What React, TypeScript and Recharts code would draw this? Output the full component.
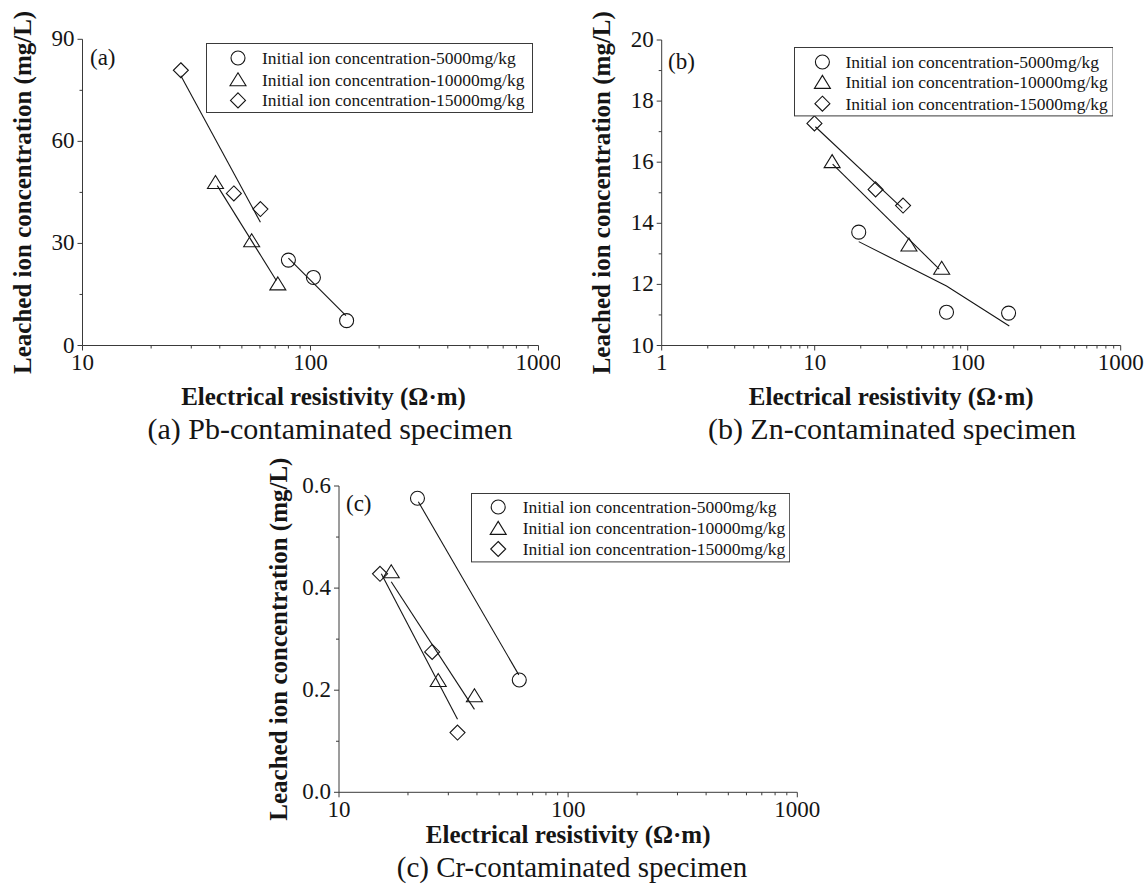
import React from "react";
import { ScatterChart, Scatter, XAxis, YAxis, Legend } from "recharts";

const SERIF = '"Liberation Serif", "Times New Roman", Times, serif';
const AXIS = "#3a3a3a";
const INK = "#151515";

const SERIES_NAMES = [
  "Initial ion concentration-5000mg/kg",
  "Initial ion concentration-10000mg/kg",
  "Initial ion concentration-15000mg/kg",
];
const X_TITLE = "Electrical resistivity (Ω·m)";
const Y_TITLE = "Leached ion concentration (mg/L)";
const CAPTIONS = [
  "(a) Pb-contaminated specimen",
  "(b) Zn-contaminated specimen",
  "(c) Cr-contaminated specimen",
];
const PANEL_TAGS = ["(a)", "(b)", "(c)"];

// (a) Pb
const pbRes5000 = [80, 103, 144];
const pbConc5000 = [25.1, 20.0, 7.3];
const pbRes10000 = [38.3, 55.2, 71.9];
const pbConc10000 = [47.9, 30.8, 18.1];
const pbRes15000 = [27.0, 46.1, 60.3];
const pbConc15000 = [80.9, 44.7, 40.1];
const pbFitRes5000 = [80, 143];
const pbFitConc5000 = [25.7, 8.8];
const pbFitRes10000 = [39, 70.8];
const pbFitConc10000 = [47.0, 19.1];
const pbFitRes15000 = [27, 60.3];
const pbFitConc15000 = [79.3, 36.2];

// (b) Zn
const znRes5000 = [19.4, 72.7, 185];
const znConc5000 = [13.71, 11.09, 11.06];
const znRes10000 = [13.0, 41.3, 67.6];
const znConc10000 = [16.02, 13.29, 12.53];
const znRes15000 = [9.96, 25.0, 37.8];
const znConc15000 = [17.27, 15.11, 14.58];
const znFitRes5000 = [19.4, 72.7, 187];
const znFitConc5000 = [13.4, 11.95, 10.64];
const znFitRes10000 = [13.1, 65.2];
const znFitConc10000 = [15.94, 12.5];
const znFitRes15000 = [10.1, 37.4];
const znFitConc15000 = [17.16, 14.49];

// (c) Cr
const crRes5000 = [22.0, 61.2];
const crConc5000 = [0.576, 0.22];
const crRes10000 = [16.9, 27.1, 39.0];
const crConc10000 = [0.432, 0.219, 0.189];
const crRes15000 = [15.1, 25.5, 32.9];
const crConc15000 = [0.428, 0.275, 0.117];
const crFitRes5000 = [22.2, 60.9];
const crFitConc5000 = [0.569, 0.23];
const crFitRes10000 = [16.9, 39.0];
const crFitConc10000 = [0.4125, 0.1625];
const crFitRes15000 = [15.3, 32.9];
const crFitConc15000 = [0.428, 0.143];

// axes
const xTicksA = [10, 20, 30, 40, 50, 60, 70, 80, 90, 100, 200, 300, 400, 500, 600, 700, 800, 900, 1000];
const xMajorA = [10, 100, 1000];
const xTicksB = [1, 2, 3, 4, 5, 6, 7, 8, 9, ...xTicksA];
const xMajorB = [1, 10, 100, 1000];
const yTicksA = [0, 15, 30, 45, 60, 75, 90];
const yMajorA = [0, 30, 60, 90];
const yTicksB = [10, 11, 12, 13, 14, 15, 16, 17, 18, 19, 20];
const yMajorB = [10, 12, 14, 16, 18, 20];
const yTicksC = [0, 0.1, 0.2, 0.3, 0.4, 0.5, 0.6];
const yMajorC = [0, 0.2, 0.4, 0.6];

type Kind = "circle" | "triangle" | "diamond";
const KINDS: Kind[] = ["circle", "triangle", "diamond"];

const pts = (xs: number[], ys: number[]) => xs.map((x, i) => ({ x, y: ys[i] }));

function Marker({ kind, cx, cy }: { kind: Kind; cx: number; cy: number }) {
  const common = { fill: "none", stroke: INK, strokeWidth: 1.1 };
  if (kind === "circle") return <circle cx={cx} cy={cy} r={7} {...common} />;
  if (kind === "triangle")
    return <path d={`M${cx},${cy - 7} L${cx + 8},${cy + 6} L${cx - 8},${cy + 6} Z`} {...common} />;
  return <path d={`M${cx},${cy - 7.5} L${cx + 7.5},${cy} L${cx},${cy + 7.5} L${cx - 7.5},${cy} Z`} {...common} />;
}

const TICK_FONT = 23;

const bottomTick = (major: number[]) => (p: any) => {
  const big = major.includes(p.payload.value);
  return (
    <g>
      <line x1={p.x} x2={p.x} y1={p.y} y2={p.y + (big ? 5 : 3)} stroke={AXIS} />
      {big && (
        <text x={p.x} y={p.y + 24.5} textAnchor="middle" fontSize={TICK_FONT} fill={INK}>
          {p.payload.value}
        </text>
      )}
    </g>
  );
};

const topTick = (major: number[]) => (p: any) => {
  const big = major.includes(p.payload.value);
  return <line x1={p.x} x2={p.x} y1={p.y} y2={p.y - (big ? 5 : 3)} stroke={AXIS} />;
};

const leftTick = (major: number[], fmt: (v: number) => string) => (p: any) => {
  const big = major.includes(p.payload.value);
  return (
    <g>
      <line x1={p.x} x2={p.x - (big ? 5 : 3)} y1={p.y} y2={p.y} stroke={AXIS} />
      {big && (
        <text x={p.x - 8} y={p.y + 7} textAnchor="end" fontSize={TICK_FONT} fill={INK}>
          {fmt(p.payload.value)}
        </text>
      )}
    </g>
  );
};

const rightTick = (major: number[]) => (p: any) => {
  const big = major.includes(p.payload.value);
  return <line x1={p.x} x2={p.x + (big ? 5 : 3)} y1={p.y} y2={p.y} stroke={AXIS} />;
};

const xTitle = (dy: number, dx: number) => (lp: any) => {
  const vb = lp.viewBox ?? lp;
  return (
    <text x={vb.x + vb.width / 2 + dx} y={vb.y + dy} textAnchor="middle" fontSize={25} fontWeight="bold" fill={INK}>
      {X_TITLE}
    </text>
  );
};

const yTitle = (lp: any) => {
  const vb = lp.viewBox ?? lp;
  const x = vb.x + vb.width - 51.5;
  const y = vb.y + vb.height / 2;
  return (
    <text x={x} y={y} transform={`rotate(-90 ${x} ${y})`} textAnchor="middle" fontSize={25} fontWeight="bold" fill={INK}>
      {Y_TITLE}
    </text>
  );
};

interface LegendBox {
  left: number;
  top: number;
  width: number;
  height: number;
  markerX: number;
  textX: number;
  rows: number[];
}

function LegendContent({ box }: { box: LegendBox }) {
  return (
    <svg width={box.width} height={box.height} style={{ display: "block" }}>
      <rect x={0.5} y={0.5} width={box.width - 1} height={box.height - 1} fill="#fff" stroke={AXIS} />
      {SERIES_NAMES.map((name, i) => (
        <g key={name}>
          <Marker kind={KINDS[i]} cx={box.markerX} cy={box.rows[i]} />
          <text x={box.textX} y={box.rows[i] + 6} fontSize={17.5} fill={INK}>
            {name}
          </text>
        </g>
      ))}
    </svg>
  );
}

interface PanelProps {
  left: number;
  top: number;
  width: number;
  height: number;
  margin: { top: number; right: number; bottom: number; left: number };
  yAxisWidth: number;
  xAxisHeight: number;
  titleDy: number;
  titleDx: number;
  xDomain: [number, number];
  xTicks: number[];
  xMajor: number[];
  yDomain: [number, number];
  yTicks: number[];
  yMajor: number[];
  yFmt: (v: number) => string;
  series: { x: number; y: number }[][];
  fits: { x: number; y: number }[][];
  legend: LegendBox;
}

function Panel(p: PanelProps) {
  return (
    <div style={{ position: "absolute", left: p.left, top: p.top, width: p.width, height: p.height }}>
      <ScatterChart width={p.width} height={p.height} margin={p.margin}>
        <XAxis
          xAxisId="b"
          dataKey="x"
          type="number"
          scale="log"
          domain={p.xDomain}
          allowDataOverflow
          ticks={p.xTicks}
          interval={0}
          tickSize={0}
          tickMargin={0}
          tickLine={false}
          height={p.xAxisHeight}
          stroke={AXIS}
          tick={bottomTick(p.xMajor)}
          label={xTitle(p.titleDy, p.titleDx)}
        />
        <XAxis
          xAxisId="t"
          orientation="top"
          type="number"
          scale="log"
          domain={p.xDomain}
          allowDataOverflow
          ticks={p.xTicks}
          interval={0}
          tickSize={0}
          tickMargin={0}
          tickLine={false}
          height={0}
          stroke={AXIS}
          tick={topTick(p.xMajor)}
        />
        <YAxis
          yAxisId="l"
          dataKey="y"
          type="number"
          domain={p.yDomain}
          allowDataOverflow
          ticks={p.yTicks}
          interval={0}
          tickSize={0}
          tickMargin={0}
          tickLine={false}
          width={p.yAxisWidth}
          stroke={AXIS}
          tick={leftTick(p.yMajor, p.yFmt)}
          label={yTitle}
        />
        <YAxis
          yAxisId="r"
          orientation="right"
          type="number"
          domain={p.yDomain}
          allowDataOverflow
          ticks={p.yTicks}
          interval={0}
          tickSize={0}
          tickMargin={0}
          tickLine={false}
          width={0}
          stroke={AXIS}
          tick={rightTick(p.yMajor)}
        />
        {p.fits.map((f, i) => (
          <Scatter
            key={`fit-${i}`}
            xAxisId="b"
            yAxisId="l"
            data={f}
            line={{ stroke: INK, strokeWidth: 1.1 }}
            shape={() => <g />}
            legendType="none"
            isAnimationActive={false}
          />
        ))}
        {p.series.map((s, i) => (
          <Scatter
            key={SERIES_NAMES[i]}
            name={SERIES_NAMES[i]}
            xAxisId="b"
            yAxisId="l"
            data={s}
            shape={(q: any) => <Marker kind={KINDS[i]} cx={q.cx} cy={q.cy} />}
            isAnimationActive={false}
          />
        ))}
        <Legend
          layout="vertical"
          align="center"
          verticalAlign="middle"
          content={() => <LegendContent box={p.legend} />}
          wrapperStyle={{ left: p.legend.left, top: p.legend.top, width: p.legend.width, height: p.legend.height }}
        />
      </ScatterChart>
    </div>
  );
}

export default function App() {
  return (
    <div
      style={{
        position: "absolute",
        left: 0,
        top: 0,
        width: 1147,
        height: 888,
        background: "#fff",
        fontFamily: SERIF,
        overflow: "hidden",
      }}
    >
      <Panel
        left={0}
        top={0}
        width={560}
        height={420}
        margin={{ top: 39.3, right: 21.5, bottom: 0, left: 0 }}
        yAxisWidth={82.5}
        xAxisHeight={74.5}
        titleDy={59.5}
        titleDx={13}
        xDomain={[10, 1000]}
        xTicks={xTicksA}
        xMajor={xMajorA}
        yDomain={[0, 90]}
        yTicks={yTicksA}
        yMajor={yMajorA}
        yFmt={(v) => String(v)}
        series={[pts(pbRes5000, pbConc5000), pts(pbRes10000, pbConc10000), pts(pbRes15000, pbConc15000)]}
        fits={[pts(pbFitRes5000, pbFitConc5000), pts(pbFitRes10000, pbFitConc10000), pts(pbFitRes15000, pbFitConc15000)]}
        legend={{ left: 206, top: 43.3, width: 327, height: 70, markerX: 32, textX: 56, rows: [15, 36.7, 57.4] }}
      />
      <Panel
        left={570}
        top={0}
        width={577}
        height={420}
        margin={{ top: 40, right: 26.3, bottom: 0, left: 0 }}
        yAxisWidth={91.7}
        xAxisHeight={74.5}
        titleDy={59.5}
        titleDx={0}
        xDomain={[1, 1000]}
        xTicks={xTicksB}
        xMajor={xMajorB}
        yDomain={[10, 20]}
        yTicks={yTicksB}
        yMajor={yMajorB}
        yFmt={(v) => String(v)}
        series={[pts(znRes5000, znConc5000), pts(znRes10000, znConc10000), pts(znRes15000, znConc15000)]}
        fits={[pts(znFitRes5000, znFitConc5000), pts(znFitRes10000, znFitConc10000), pts(znFitRes15000, znFitConc15000)]}
        legend={{ left: 223.6, top: 47.3, width: 319.6, height: 69.4, markerX: 28.4, textX: 51.4, rows: [15, 35.4, 56.7] }}
      />
      <Panel
        left={250}
        top={430}
        width={580}
        height={425}
        margin={{ top: 56, right: 32.7, bottom: 0, left: 0 }}
        yAxisWidth={89}
        xAxisHeight={62.7}
        titleDy={51}
        titleDx={0}
        xDomain={[10, 1000]}
        xTicks={xTicksA}
        xMajor={xMajorA}
        yDomain={[0, 0.6]}
        yTicks={yTicksC}
        yMajor={yMajorC}
        yFmt={(v) => v.toFixed(1)}
        series={[pts(crRes5000, crConc5000), pts(crRes10000, crConc10000), pts(crRes15000, crConc15000)]}
        fits={[pts(crFitRes5000, crFitConc5000), pts(crFitRes10000, crFitConc10000), pts(crFitRes15000, crFitConc15000)]}
        legend={{ left: 220.8, top: 63.3, width: 319.2, height: 69.4, markerX: 27.2, textX: 51.8, rows: [14, 35.4, 56] }}
      />
      <svg width={1147} height={888} style={{ position: "absolute", left: 0, top: 0, pointerEvents: "none" }}>
        <text x={90} y={65} fontSize={23} fill={INK}>{PANEL_TAGS[0]}</text>
        <text x={668} y={69} fontSize={23} fill={INK}>{PANEL_TAGS[1]}</text>
        <text x={346} y={511} fontSize={23} fill={INK}>{PANEL_TAGS[2]}</text>
        <text x={330} y={439} fontSize={30} textAnchor="middle" fill={INK}>{CAPTIONS[0]}</text>
        <text x={892} y={439} fontSize={30} textAnchor="middle" fill={INK}>{CAPTIONS[1]}</text>
        <text x={572} y={877} fontSize={29} textAnchor="middle" fill={INK}>{CAPTIONS[2]}</text>
      </svg>
    </div>
  );
}
